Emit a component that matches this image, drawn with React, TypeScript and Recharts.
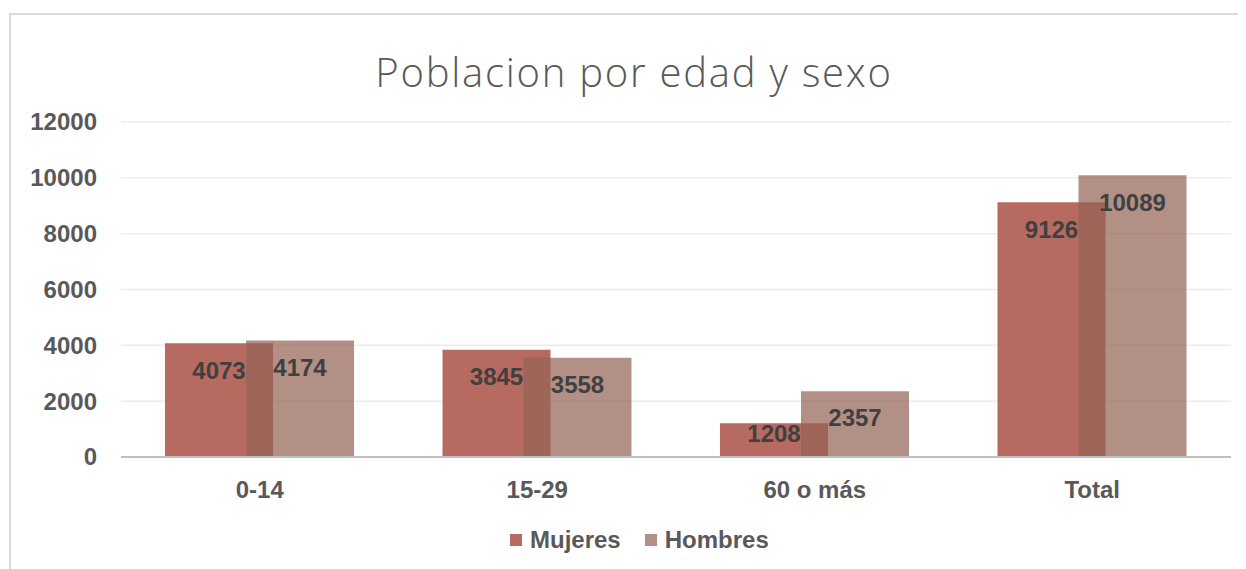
import { Bar, BarChart, CartesianGrid, LabelList, XAxis, YAxis } from "recharts"

const categories = ["0-14", "15-29", "60 o más", "Total"]
const mujeres = [4073, 3845, 1208, 9126]
const hombres = [4174, 3558, 2357, 10089]
const yTicks = [0, 2000, 4000, 6000, 8000, 10000, 12000]

const MUJERES_COLOR = "#b66a60"
const HOMBRES_COLOR = "#946355"
const HOMBRES_OPACITY = 0.71
const HOMBRES_SWATCH = "#b39086"
const TEXT = "#595959"
const FONT = "'Liberation Sans', Arial, sans-serif"

const data = categories.map((c, i) => ({ cat: c, mujeres: mujeres[i], hombres: hombres[i] }))

function YTick({ x, y, payload }: any) {
  return (
    <text x={x} y={y} dy="0.35em" textAnchor="end" fill={TEXT} fontSize={24} fontWeight="bold" fontFamily={FONT}>
      {payload.value}
    </text>
  )
}

function XTick({ x, y, payload }: any) {
  return (
    <text x={x} y={y + 31} dy="0.35em" textAnchor="middle" fill={TEXT} fontSize={24} fontWeight="bold" fontFamily={FONT}>
      {payload.value}
    </text>
  )
}

// label sits near the top of the bar, pulled up a bit for short bars
function BarLabel({ x, y, width, height, value }: any) {
  const dy = Math.min(27, height / 2 - 7)
  return (
    <text
      x={x + width / 2}
      y={y + dy}
      dy="0.35em"
      textAnchor="middle"
      fill="#404040"
      fontSize={24}
      fontWeight="bold"
      fontFamily={FONT}
    >
      {value}
    </text>
  )
}

export default function App() {
  return (
    <div style={{ position: "relative", width: 1238, height: 561, overflow: "hidden", background: "#fff" }}>
      {/* chart frame, runs off the right and bottom edges */}
      <div
        style={{
          position: "absolute",
          left: 1,
          top: 5,
          width: 1400,
          height: 800,
          borderTop: "2px solid #d9d9d9",
          borderLeft: "2px solid #d9d9d9",
        }}
      />
      <div
        style={{
          position: "absolute",
          left: 0,
          right: 0,
          top: 40,
          paddingLeft: 14,
          textAlign: "center",
          fontFamily: "'Open Sans', sans-serif",
          fontWeight: 300,
          fontSize: 40,
          letterSpacing: 1.75,
          color: TEXT,
          lineHeight: "48px",
        }}
      >
        Poblacion por edad y sexo
      </div>
      <div style={{ position: "absolute", left: 0, top: 0 }}>
        <BarChart
          width={1238}
          height={561}
          data={data}
          margin={{ top: 114, right: 15, left: 20, bottom: 72 }}
          barSize={108}
          barGap={-27}
        >
          <CartesianGrid vertical={false} stroke="#ececec" strokeWidth={1.5} />
          <XAxis
            dataKey="cat"
            height={40}
            tickLine={false}
            tickSize={0}
            axisLine={{ stroke: "#bfbfbf", strokeWidth: 2 }}
            tick={<XTick />}
          />
          <YAxis
            width={93}
            domain={[0, 12000]}
            ticks={yTicks}
            axisLine={false}
            tickLine={false}
            tickSize={0}
            tickMargin={24}
            tick={<YTick />}
          />
          <Bar dataKey="mujeres" fill={MUJERES_COLOR} isAnimationActive={false}>
            <LabelList dataKey="mujeres" content={<BarLabel />} />
          </Bar>
          <Bar dataKey="hombres" fill={HOMBRES_COLOR} fillOpacity={HOMBRES_OPACITY} isAnimationActive={false}>
            <LabelList dataKey="hombres" content={<BarLabel />} />
          </Bar>
        </BarChart>
      </div>
      {/* legend */}
      <div
        style={{
          position: "absolute",
          top: 518,
          left: 502,
          display: "flex",
          alignItems: "center",
          fontFamily: FONT,
          fontWeight: "bold",
          fontSize: 24,
          color: TEXT,
          lineHeight: "28px",
        }}
      >
        <span style={{ width: 12, height: 12, background: MUJERES_COLOR, marginRight: 8 }} />
        <span style={{ marginRight: 24 }}>Mujeres</span>
        <span style={{ width: 12, height: 12, background: HOMBRES_SWATCH, marginRight: 8 }} />
        <span>Hombres</span>
      </div>
    </div>
  )
}
